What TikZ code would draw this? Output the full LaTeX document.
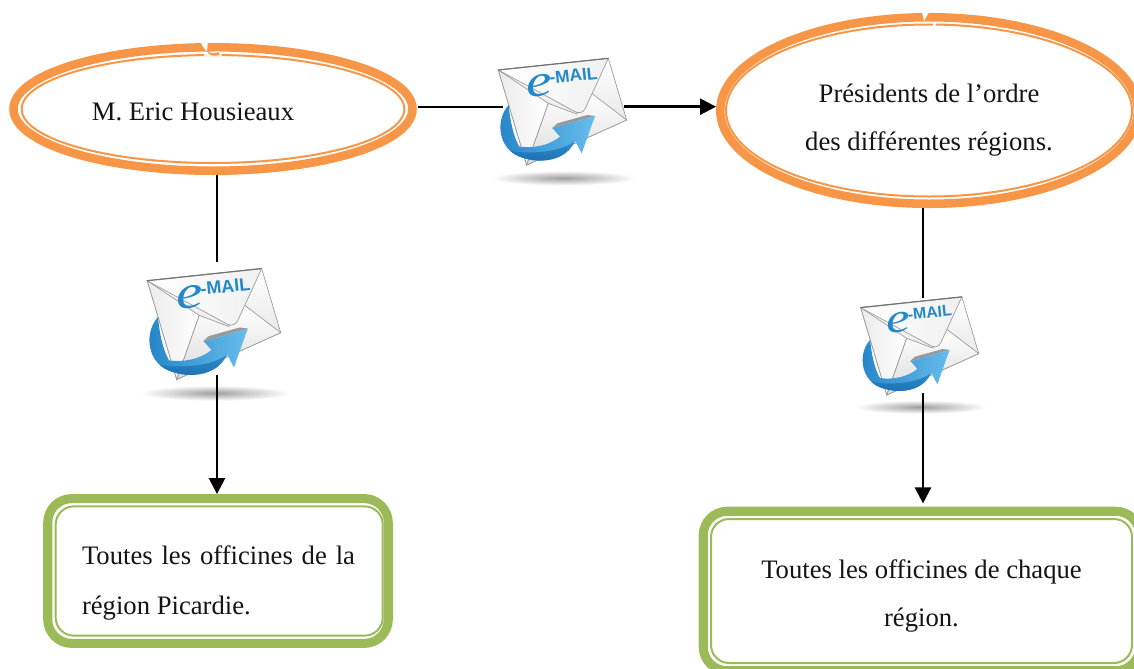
\documentclass[tikz,border=0pt]{standalone}
\usepackage{fontspec}
\setmainfont{Liberation Serif}
\newfontfamily\mailsans{Liberation Sans}
\usetikzlibrary{shapes.geometric,arrows.meta}
\definecolor{ringorange}{HTML}{F79646}
\definecolor{boxgreen}{HTML}{9BBB59}
\definecolor{maildark}{HTML}{125F9F}
\definecolor{mailmid}{HTML}{2485C8}
\definecolor{maillight}{HTML}{66BCEC}
\definecolor{mailtext}{HTML}{2288C8}
\tikzset{
  ringnode/.style={ellipse,draw=ringorange,line width=6.4pt,fill=white},
  ringinner/.style={draw=ringorange,line width=1.5pt},
  notchcut/.style={fill=white,draw=none},
  boxnode/.style={rectangle,draw=boxgreen,line width=6.8pt,rounded corners=18pt,fill=white},
  boxinner/.style={draw=boxgreen,line width=1.5pt,rounded corners=13.5pt},
  lbl/.style={font=\fontsize{20pt}{36pt}\selectfont,inner sep=0pt,text=black!92},
  mailspot/.style={rectangle,inner sep=0pt,draw=none},
  plainlink/.style={draw=black,line width=1.2pt},
  arrowlink/.style={draw=black,line width=1.9pt,-{Triangle[length=12pt,width=12pt]}},
  mailedge/.style={draw=black!40,line width=.5pt}
}
% envelope drawn in units of a third of a reference pixel
\newcommand{\mailglyph}[4]{%
  \begin{scope}[shift={(#2,#3)},x=#4*0.25pt,y=-#4*0.25pt]
    \shade[inner color=black!38,outer color=white] (250,414) ellipse [x radius=#4*54pt,y radius=#4*5.5pt];
    \shade[mailedge,top color=white,bottom color=black!15]
      (55,90) -- (385,55) -- (440,240) -- (140,375) -- cycle;
    \shade[mailedge,left color=black!8,right color=white]
      (55,90) -- (205,190) -- (140,375) -- cycle;
    \shade[mailedge,top color=white,bottom color=black!14]
      (140,375) -- (205,190) -- (290,222) -- (335,160) -- (440,240) -- cycle;
    \shade[mailedge,left color=white,right color=black!6]
      (55,90) -- (385,55) -- (316,205) .. controls (308,220) and (295,220) .. (285,215) -- cycle;
    \draw[black!55,line width=.9pt] (55,90) -- (385,55);
    \fill[black!40] (215,266) -- (232,250) -- (322,225) -- (345,228) -- cycle;
    \shade[left color=mailmid,right color=maillight]
      (86,195) .. controls (50,235) and (55,300) .. (90,332)
      .. controls (125,368) and (250,385) .. (285,302)
      -- (305,340) -- (345,228) -- (218,265) -- (240,290)
      .. controls (205,318) and (160,325) .. (118,320)
      .. controls (100,290) and (90,240) .. (86,195) -- cycle;
    \shade[top color=mailmid,bottom color=maildark,opacity=.8]
      (90,332) .. controls (125,368) and (250,385) .. (285,302)
      .. controls (250,335) and (150,345) .. (90,332) -- cycle;
    \node[rotate=6,scale=#4,inner sep=0pt,text=mailtext] (#1) at (246,128)
      {\fontsize{34pt}{34pt}\selectfont\scalebox{1.3}[1]{\itshape e}\kern-1.5pt\raisebox{8.5pt}{\fontsize{13pt}{13pt}\selectfont\mailsans\upshape\bfseries -MAIL}};
  \end{scope}%
}
\begin{document}
\begin{tikzpicture}[x=0.75pt,y=-0.75pt]
  \path[use as bounding box,clip] (0,0) rectangle (1134,668);
  \fill[white] (0,0) rectangle (1134,668);

  % orange ellipses
  \node[ringnode,minimum width=299.25pt,minimum height=92.6pt] (hous) at (213,109) {};
  \draw[ringinner] (hous.center) ellipse [x radius=143.5pt,y radius=40.5pt];
  \fill[notchcut] (200,41) -- (208,41) -- (207,51) .. controls (205,50) and (203,47) .. (200,41) -- cycle;
  \fill[notchcut] (205,52) .. controls (212,55) and (216,50) .. (219,51) -- (222,56) -- (204,56) -- cycle;
  \fill[ringorange] (207,51) .. controls (210,54) and (216,53) .. (219,52) -- (219,55) .. controls (214,57) and (208,55) .. (207,51) -- cycle;

  \node[ringnode,minimum width=313.1pt,minimum height=139.9pt] (pres) at (929,110.5) {};
  \draw[ringinner] (pres.center) ellipse [x radius=152.25pt,y radius=64.5pt];
  \fill[notchcut] (922,12) -- (929,12) -- (924,21) -- cycle;
  \fill[notchcut] (933,21.5) -- (936,21.5) -- (936,27) -- (933,27) -- cycle;

  % green boxes
  \node[boxnode,minimum width=255.4pt,minimum height=108.6pt] (picbox) at (218,571) {};
  \draw[boxinner] ([shift={(-162.3,-64.6)}]picbox.center) rectangle ([shift={(164.7,64.6)}]picbox.center);
  \node[boxnode,minimum width=327.4pt,minimum height=119.6pt] (allbox) at (921.5,591) {};
  \draw[boxinner] ([shift={(-210.5,-72)}]allbox.center) rectangle ([shift={(210.5,72)}]allbox.center);

  % labels
  \node[lbl,anchor=base] (t1) at (193,120) {M. Eric Housieaux};
  \node[lbl,align=center] (t2) at (929,120) {Présidents de l’ordre\\des différentes régions.};
  \node[lbl,align=left] (t3) at (218.5,583) {\makebox[204.75pt][s]{Toutes les officines de la}\\[1.5pt]région Picardie.};
  \node[lbl,align=center] (t4) at (921.5,596) {Toutes les officines de chaque\\région.};

  % envelopes
  \mailglyph{mailtexta}{480}{40}{1}
  \mailglyph{mailtextb}{128.2}{249.5}{1.04}
  \mailglyph{mailtextc}{843.8}{280}{0.92}

  % invisible anchors of the envelopes, where the connectors stop
  \node[mailspot,minimum width=90.75pt,minimum height=20pt] (mail1) at (563.5,106.7) {};
  \node[mailspot,minimum width=40pt,minimum height=84.75pt] (mail2) at (217,318.5) {};
  \node[mailspot,minimum width=40pt,minimum height=71.25pt] (mail3) at (923,345.5) {};

  % connectors
  \draw[plainlink] ([xshift=1pt]hous.east |- mail1.west) -- (mail1.west);
  \draw[arrowlink] (mail1.east) -- (pres.west |- mail1.east);
  \draw[plainlink] (hous.south -| mail2.north) -- (mail2.north);
  \draw[arrowlink] (mail2.south) -- (picbox.north -| mail2.south);
  \draw[plainlink] (pres.south -| mail3.north) -- (mail3.north);
  \draw[arrowlink,shorten >=2.5pt] (mail3.south) -- (allbox.north -| mail3.south);
\end{tikzpicture}
\end{document}
